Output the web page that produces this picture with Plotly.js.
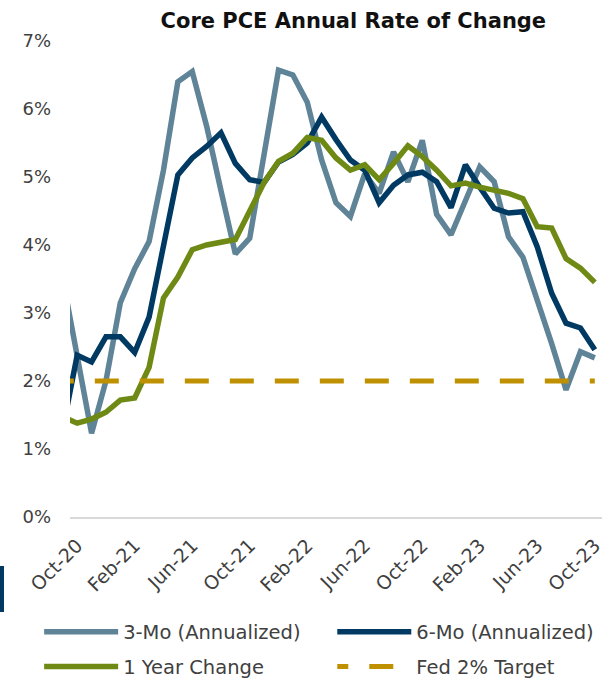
<!DOCTYPE html>
<html>
<head>
<meta charset="utf-8">
<script src="https://cdn.plot.ly/plotly-3.0.1.min.js"></script>
<style>html,body{margin:0;padding:0;background:#fff;}#chart{width:604px;height:683px;}</style>
</head>
<body>
<div id="chart"></div>
<script>
const months = ["Sep-20","Oct-20","Nov-20","Dec-20","Jan-21","Feb-21","Mar-21","Apr-21","May-21","Jun-21","Jul-21","Aug-21","Sep-21","Oct-21","Nov-21","Dec-21","Jan-22","Feb-22","Mar-22","Apr-22","May-22","Jun-22","Jul-22","Aug-22","Sep-22","Oct-22","Nov-22","Dec-22","Jan-23","Feb-23","Mar-23","Apr-23","May-23","Jun-23","Jul-23","Aug-23","Sep-23","Oct-23"];
const threeMo = [3.5,2.4,1.23,2.0,3.15,3.65,4.05,5.1,6.4,6.55,5.75,4.8,3.87,4.1,5.3,6.57,6.5,6.1,5.25,4.62,4.42,5.05,4.76,5.37,4.93,5.54,4.45,4.15,4.65,5.15,4.93,4.12,3.82,3.2,2.55,1.87,2.43,2.34];
const sixMo = [1.3,2.38,2.28,2.65,2.65,2.42,2.94,4.0,5.03,5.28,5.45,5.65,5.2,4.96,4.92,5.22,5.33,5.5,5.88,5.55,5.25,5.1,4.62,4.88,5.03,5.07,4.93,4.55,5.18,4.85,4.54,4.47,4.49,3.97,3.29,2.85,2.78,2.46];
const oneYear = [1.47,1.38,1.44,1.54,1.72,1.75,2.2,3.22,3.53,3.93,4.0,4.03,4.08,4.5,4.92,5.23,5.35,5.58,5.54,5.28,5.1,5.18,4.96,5.2,5.46,5.3,5.1,4.87,4.91,4.85,4.8,4.76,4.68,4.27,4.25,3.8,3.66,3.45];
const fedTarget = months.map(() => 2);
const tickLabels = ["Oct-20","Feb-21","Jun-21","Oct-21","Feb-22","Jun-22","Oct-22","Feb-23","Jun-23","Oct-23"];
const yTicks = [0,1,2,3,4,5,6,7];

const font = "DejaVu Sans, sans-serif";
const traces = [
  {x: months, y: threeMo, name: "3-Mo (Annualized)", type: "scatter", mode: "lines",
   line: {color: "#5f8397", width: 5.5}, legend: "legend"},
  {x: months, y: sixMo, name: "6-Mo (Annualized)", type: "scatter", mode: "lines",
   line: {color: "#003a63", width: 5.5}, legend: "legend2"},
  {x: months, y: oneYear, name: "1 Year Change", type: "scatter", mode: "lines",
   line: {color: "#6e8a14", width: 5.5}, legend: "legend3"},
  {x: months, y: fedTarget, name: "Fed 2% Target", type: "scatter", mode: "lines",
   line: {color: "#bf9100", width: 5, dash: "11px,21px,13px,0px"}, legend: "legend4"}
];

function leg(x, y) {
  return {orientation: "h", xref: "paper", yref: "paper", x: x, y: y, xanchor: "left", yanchor: "middle",
    font: {family: font, size: 19.5, color: "#404040"}, itemwidth: 74, bgcolor: "rgba(0,0,0,0)"};
}

const layout = {
  width: 604, height: 683,
  margin: {l: 70, r: 2, t: 41, b: 166, autoexpand: false},
  paper_bgcolor: "#fff", plot_bgcolor: "#fff",
  title: {text: "<b>Core PCE Annual Rate of Change</b>", x: 0.585, xanchor: "center", y: 0.970, yanchor: "middle",
          font: {family: font, size: 21, color: "#111"}},
  xaxis: {type: "category", range: [0.5, 37.5], tickmode: "array", tickvals: tickLabels, ticktext: tickLabels,
          tickangle: -45, showgrid: false, zeroline: false, showline: true, linecolor: "#d9d9d9", linewidth: 2,
          ticks: "", ticklabelstandoff: 8, tickfont: {family: font, size: 19, color: "#404040"}},
  yaxis: {range: [0, 7], tickvals: yTicks, ticktext: yTicks.map(v => v + "%"), showgrid: false, zeroline: false,
          showline: false, ticks: "", ticklabelstandoff: 18, tickfont: {family: font, size: 18, color: "#404040"}},
  legend: leg(-0.058, -0.2416),
  legend2: leg(0.493, -0.2416),
  legend3: leg(-0.058, -0.315),
  legend4: leg(0.493, -0.315),
  showlegend: true,
  shapes: [{type: "rect", xref: "paper", yref: "paper", x0: -0.1316, x1: -0.1241, y0: -0.1996, y1: -0.1029,
            fillcolor: "#003a63", line: {width: 0}}]
};

Plotly.newPlot("chart", traces, layout, {displayModeBar: false, staticPlot: true});
</script>
</body>
</html>
